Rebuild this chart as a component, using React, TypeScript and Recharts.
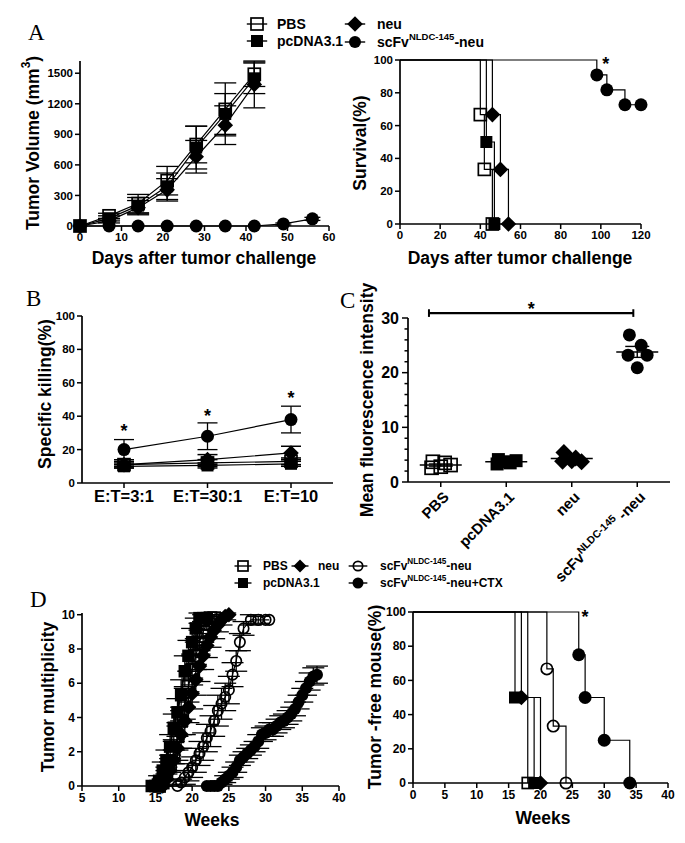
import React from "react";
import { LineChart, Line, XAxis, YAxis, ErrorBar, ScatterChart, Scatter, ReferenceLine, ReferenceDot } from "recharts";

const FONT = "'Liberation Sans', Arial, sans-serif";

// ---- A (left): tumor volume, mm3
const aDays = [0, 7, 14, 21, 28, 35, 42];
const aDaysLong = [0, 7, 14, 21, 28, 35, 42, 49, 56];
const aPbs = [0, 100, 220, 445, 800, 1145, 1490];
const aPbsErr = [0, 25, 90, 140, 180, 260, 120];
const aPcdna = [0, 75, 200, 390, 770, 1100, 1450];
const aPcdnaErr = [0, 25, 80, 130, 210, 200, 150];
const aNeu = [0, 50, 180, 355, 680, 990, 1390];
const aNeuErr = [0, 20, 70, 110, 160, 190, 230];
const aScfv = [0, 0, 0, 0, 0, 0, 0, 20, 70];
const aScfvErr = [0, 0, 0, 0, 0, 0, 0, 10, 15];

// ---- A (right): survival, %
const sPbsX = [0, 40, 42, 46];
const sPbsY = [100, 66.7, 33.3, 0];
const sPcdnaX = [0, 43, 47];
const sPcdnaY = [100, 50, 0];
const sNeuX = [0, 46, 50, 54];
const sNeuY = [100, 66.7, 33.3, 0];
const sScfvX = [0, 98, 103, 112, 120];
const sScfvY = [100, 90.9, 81.8, 72.7, 72.7];
const sStar = [102.5, 98];

// ---- B: specific killing
const bCats = ["E:T=3:1", "E:T=30:1", "E:T=10"];
const bScfv = [20, 28, 38];
const bScfvErr = [6, 8, 8];
const bNeu = [11, 14, 18];
const bNeuErr = [2, 3, 4];
const bPbs = [11, 12, 13];
const bPbsErr = [1, 2, 2];
const bPcdna = [10, 10.5, 11.5];
const bPcdnaErr = [1, 1.5, 1.5];
const bStar = [32, 41, 51.5];

// ---- C: mean fluorescence intensity
const cCats = ["PBS", "pcDNA3.1", "neu", "scFv"];
const cPbs = [3.7, 3.5, 2.6, 3.1, 2.8];
const cPcdna = [4.1, 3.5, 3.3, 3.9, 3.7];
const cNeu = [5.4, 4.4, 3.8, 3.7, 3.9];
const cScfv = [26.9, 25.0, 23.2, 23.2, 20.9];
const cMean = [3.1, 3.7, 4.3, 23.8];
const cSem = [0.2, 0.15, 0.3, 1.0];
const cJitter = [-0.12, 0.06, -0.14, 0.15, 0];
const cSig = [0.32, 3.44, 30.9];

// ---- D (left): tumor multiplicity
const mPcdnaW = [14.5, 15, 15.5, 16, 16.5, 17, 17.5, 18, 18.5, 19, 19.5, 20, 20.5, 21, 21.5, 22];
const mPcdna = [0, 0, 0.3, 0.9, 1.5, 2.3, 3.4, 4.3, 5.3, 6.7, 7.6, 8.4, 9.2, 9.8, 9.8, 9.8];
const mPcdnaErr = [0, 0, 0.3, 0.5, 0.6, 0.7, 0.8, 0.8, 0.9, 0.9, 0.9, 0.8, 0.6, 0.3, 0.2, 0.2];
const mPbsW = [15.5, 16, 16.5, 17, 17.5, 18, 18.5, 19, 19.5, 20, 20.5, 21, 21.5, 22, 22.5, 23];
const mPbs = [0, 0.2, 0.7, 1.3, 2, 2.9, 3.8, 4.8, 5.8, 6.8, 7.6, 8.4, 9, 9.5, 9.8, 9.8];
const mPbsErr = [0, 0.2, 0.4, 0.5, 0.7, 0.8, 0.8, 0.9, 0.9, 0.9, 0.8, 0.7, 0.6, 0.4, 0.2, 0.2];
const mNeuW = [16, 16.5, 17, 17.5, 18, 18.5, 19, 19.5, 20, 20.5, 21, 21.5, 22, 22.5, 23, 23.5, 24, 24.5, 25];
const mNeu = [0, 0.4, 0.9, 1.5, 2.2, 3, 3.8, 4.6, 5.4, 6.2, 7, 7.6, 8.2, 8.7, 9.1, 9.4, 9.7, 9.9, 10];
const mNeuErr = [0, 0.3, 0.5, 0.6, 0.7, 0.8, 0.8, 0.9, 0.9, 0.9, 0.9, 0.8, 0.7, 0.6, 0.5, 0.4, 0.3, 0.2, 0];
const mScfvW = [18, 18.5, 19, 19.5, 20, 20.5, 21, 21.5, 22, 22.5, 23, 23.5, 24, 24.5, 25, 25.5, 26, 26.5, 27, 28, 29, 30, 30.5];
const mScfv = [0, 0.2, 0.5, 0.8, 1.1, 1.5, 1.9, 2.3, 2.8, 3.2, 3.8, 4.4, 4.8, 5.2, 5.6, 6.5, 7.3, 8.4, 9.2, 9.7, 9.7, 9.7, 9.7];
const mScfvErr = [0, 0.2, 0.4, 0.5, 0.6, 0.7, 0.7, 0.8, 0.8, 0.9, 0.9, 0.9, 0.9, 0.8, 0.8, 0.7, 0.6, 0.5, 0.4, 0.3, 0.2, 0, 0];
const mCtxW = [22, 22.5, 23, 23.5, 24, 24.5, 25, 25.5, 26, 26.5, 27, 27.5, 28, 28.5, 29, 29.5, 30, 30.5, 31, 31.5, 32, 32.5, 33, 33.5, 34, 34.5, 35, 35.5, 36, 36.5, 37];
const mCtx = [0, 0, 0, 0, 0.2, 0.4, 0.6, 0.8, 1.1, 1.5, 1.7, 1.9, 2.1, 2.3, 2.6, 3, 3.1, 3.3, 3.3, 3.5, 3.7, 3.8, 4, 4.2, 4.5, 4.9, 5.3, 5.7, 6.1, 6.4, 6.5];
const mCtxErr = [0, 0, 0, 0, 0.1, 0.2, 0.2, 0.3, 0.3, 0.3, 0.3, 0.3, 0.3, 0.3, 0.4, 0.4, 0.4, 0.4, 0.4, 0.4, 0.4, 0.4, 0.4, 0.4, 0.4, 0.4, 0.4, 0.4, 0.5, 0.5, 0.5];

// ---- D (right): tumor-free mice, %
const fPbsX = [0, 18];
const fPbsY = [100, 0];
const fPcdnaX = [0, 16, 19];
const fPcdnaY = [100, 50, 0];
const fNeuX = [0, 17, 20];
const fNeuY = [100, 50, 0];
const fScfvX = [0, 21, 22, 24];
const fScfvY = [100, 66.7, 33.3, 0];
const fCtxX = [0, 26, 27, 30, 34];
const fCtxY = [100, 75, 50, 25, 0];
const fStar = [27, 97.5];

const rows = (xs: number[], ys: number[], es?: number[]) =>
  xs.map((x, i) => ({ x, y: ys[i], e: es ? es[i] : 0 }));

const Marker = ({ kind, cx, cy, s }: { kind: string; cx: number; cy: number; s: number }) => {
  const h = s / 2;
  if (kind === "osq")
    return <rect x={cx - h} y={cy - h} width={s} height={s} fill="none" stroke="#000" strokeWidth={1.7} />;
  if (kind === "fsq") return <rect x={cx - h} y={cy - h} width={s} height={s} fill="#000" />;
  if (kind === "dia") {
    const d = h * 1.3;
    return <polygon points={`${cx},${cy - d} ${cx + d},${cy} ${cx},${cy + d} ${cx - d},${cy}`} fill="#000" />;
  }
  if (kind === "oci") return <circle cx={cx} cy={cy} r={h - 0.8} fill="none" stroke="#000" strokeWidth={1.7} />;
  return <circle cx={cx} cy={cy} r={h} fill="#000" />;
};

const dots = (kind: string, s: number, skipFirst = false) => (p: any) =>
  (skipFirst && p.index === 0) || p.cx == null ? (
    <g key={p.index} />
  ) : (
    <Marker key={p.index} kind={kind} cx={p.cx} cy={p.cy} s={s} />
  );

const Star = (p: any) => (
  <text x={p.cx} y={p.cy + 7} textAnchor="middle" fontSize={18} fontWeight={700} fontFamily={FONT}>*</text>
);
const starDot = (p: any) => <Star key={p.index} cx={p.cx} cy={p.cy} />;

const YW = 44;
function frame(x0: number, x1: number, y0: number, y1: number, pad = 14, xh = 32) {
  return {
    style: { position: "absolute" as const, left: x0 - YW - 14, top: y0 - pad },
    width: x1 - x0 + YW + 28,
    height: y1 - y0 + pad + xh,
    margin: { top: pad, right: 14, bottom: 0, left: 14 },
    xh,
  };
}

const axis = { stroke: "#000", strokeWidth: 1.7 };
const tl = { stroke: "#000", strokeWidth: 1.5 };
const tf = (fs: number) => ({ fill: "#000", fontSize: fs, fontWeight: 700, fontFamily: FONT });
const ln = { stroke: "#000", strokeWidth: 1.2, isAnimationActive: false, connectNulls: true } as const;
const eb = (w: number) => <ErrorBar dataKey="e" width={w} stroke="#000" strokeWidth={1.3} direction="y" />;

const CYTick = (p: any) => {
  const v = p.payload.value;
  const major = v % 10 === 0;
  return (
    <g>
      <line x1={p.x - (major ? 6 : 3.5)} x2={p.x} y1={p.y} y2={p.y} stroke="#000" strokeWidth={1.5} />
      {major && (
        <text x={p.x - 9} y={p.y} textAnchor="end" dominantBaseline="central" {...tf(16)}>{v}</text>
      )}
    </g>
  );
};

const CXTick = (p: any) => {
  const i = Math.floor(p.payload.value);
  const tx = p.x + 9;
  const ty = p.y + 9;
  return (
    <text x={tx} y={ty} transform={`rotate(-45 ${tx} ${ty})`} textAnchor="end" {...tf(15)}>
      {i === 3 ? (
        <>
          scFv<tspan dy={-6} fontSize={10.5}>NLDC-145</tspan>
          <tspan dy={6}> -neu</tspan>
        </>
      ) : (
        cCats[i]
      )}
    </text>
  );
};

const Sup = ({ sup, after, fs }: { sup: string; after: string; fs: number }) => (
  <>
    <tspan dy={-fs * 0.4} fontSize={fs * 0.68}>{sup}</tspan>
    <tspan dy={fs * 0.4}>{after}</tspan>
  </>
);

function Overlay() {
  const title = { fontSize: 17.5, fontWeight: 700, fontFamily: FONT, textAnchor: "middle" as const, dominantBaseline: "central" as const };
  const letter = { fontSize: 23, fontFamily: "'Liberation Serif', 'Times New Roman', serif" };
  const leg = (fs: number) => ({ fontSize: fs, fontWeight: 700, fontFamily: FONT, dominantBaseline: "central" as const });
  const LegM = ({ kind, x, y, s }: { kind: string; x: number; y: number; s: number }) => (
    <g>
      <line x1={x - s * 0.85} x2={x + s * 0.85} y1={y} y2={y} stroke="#000" strokeWidth={1.4} />
      <Marker kind={kind} cx={x} cy={y} s={s} />
    </g>
  );
  return (
    <svg width={685} height={843} style={{ position: "absolute", left: 0, top: 0, pointerEvents: "none" }}>
      <text x={28} y={40} {...letter}>A</text>
      <text x={26} y={306} {...letter}>B</text>
      <text x={340} y={308} {...letter}>C</text>
      <text x={30} y={607} {...letter}>D</text>

      {/* legend A */}
      <LegM kind="osq" x={257} y={24} s={12} />
      <text x={277} y={24} {...leg(14)}>PBS</text>
      <LegM kind="fsq" x={257} y={41} s={12} />
      <text x={277} y={41} {...leg(14)}>pcDNA3.1</text>
      <LegM kind="dia" x={355} y={24} s={12} />
      <text x={377} y={24} {...leg(14)}>neu</text>
      <LegM kind="fci" x={355} y={42} s={12} />
      <text x={377} y={42} {...leg(14)}>scFv<Sup sup="NLDC-145" after="-neu" fs={14} /></text>

      {/* legend D */}
      <LegM kind="osq" x={243} y={566} s={10} />
      <text x={263} y={566} {...leg(12)}>PBS</text>
      <LegM kind="dia" x={300} y={566} s={10} />
      <text x={318} y={566} {...leg(12)}>neu</text>
      <LegM kind="oci" x={358} y={566} s={11} />
      <text x={380} y={566} {...leg(12)}>scFv<Sup sup="NLDC-145" after="-neu" fs={12} /></text>
      <LegM kind="fsq" x={243} y={583} s={10} />
      <text x={263} y={583} {...leg(12)}>pcDNA3.1</text>
      <LegM kind="fci" x={358} y={583} s={11} />
      <text x={380} y={583} {...leg(12)}>scFv<Sup sup="NLDC-145" after="-neu+CTX" fs={12} /></text>

      {/* axis titles */}
      <text x={204} y={258} {...title}>Days after tumor challenge</text>
      <text x={0} y={0} transform="translate(33 143) rotate(-90)" {...title}>
        Tumor Volume (mm<Sup sup="3" after=")" fs={17.5} />
      </text>
      <text x={520} y={258} {...title}>Days after tumor challenge</text>
      <text x={0} y={0} transform="translate(360 143) rotate(-90)" {...title}>Survival(%)</text>
      <text x={0} y={0} transform="translate(45 394) rotate(-90)" {...title}>Specific killing(%)</text>
      <text x={0} y={0} transform="translate(367 400) rotate(-90)" {...title}>Mean fluorescence intensity</text>
      <text x={212} y={820} {...title}>Weeks</text>
      <text x={0} y={0} transform="translate(48 697) rotate(-90)" {...title}>Tumor multiplicity</text>
      <text x={543} y={818} {...title}>Weeks</text>
      <text x={0} y={0} transform="translate(375 697) rotate(-90)" {...title}>Tumor -free mouse(%)</text>
    </svg>
  );
}

export default function App() {
  const fa = frame(80, 329, 61, 226);
  const fs = frame(400, 641, 60, 224);
  const fb = frame(82, 333, 316, 483);
  const fc = frame(408, 670, 318, 482, 28, 110);
  const fd = frame(82, 339, 613, 786);
  const ff = frame(413, 668, 612, 783);

  const bData = bCats.map((c, i) => ({
    cat: c,
    scfv: bScfv[i], scfvE: bScfvErr[i],
    neu: bNeu[i], neuE: bNeuErr[i],
    pbs: bPbs[i], pbsE: bPbsErr[i],
    pc: bPcdna[i], pcE: bPcdnaErr[i],
    star: bStar[i],
  }));
  const cRows = (vals: number[], g: number) => vals.map((y, j) => ({ x: g + 0.5 + cJitter[j], y }));
  const cMeanRows = cMean.map((y, g) => ({ x: g + 0.5, y, e: cSem[g] }));

  return (
    <div style={{ position: "absolute", left: 0, top: 0, width: 685, height: 843, background: "#fff" }}>
      {/* A: tumor volume */}
      <div style={fa.style}>
        <LineChart width={fa.width} height={fa.height} margin={fa.margin}>
          <XAxis type="number" dataKey="x" domain={[0, 60]} ticks={[0, 10, 20, 30, 40, 50, 60]} height={fa.xh}
            axisLine={axis} tickLine={tl} tickSize={5} tick={tf(11.5)} />
          <YAxis type="number" domain={[0, 1500]} ticks={[0, 300, 600, 900, 1200, 1500]} width={YW}
            axisLine={axis} tickLine={tl} tickSize={5} tick={tf(11.5)} />
          <Line data={rows(aDaysLong, aScfv, aScfvErr)} dataKey="y" {...ln} dot={dots("fci", 13)}>{eb(8)}</Line>
          <Line data={rows(aDays, aNeu, aNeuErr)} dataKey="y" {...ln} dot={dots("dia", 12)}>{eb(11)}</Line>
          <Line data={rows(aDays, aPcdna, aPcdnaErr)} dataKey="y" {...ln} dot={dots("fsq", 12)}>{eb(11)}</Line>
          <Line data={rows(aDays, aPbs, aPbsErr)} dataKey="y" {...ln} dot={dots("osq", 12)}>{eb(11)}</Line>
        </LineChart>
      </div>

      {/* A: survival */}
      <div style={fs.style}>
        <LineChart width={fs.width} height={fs.height} margin={fs.margin}>
          <XAxis type="number" dataKey="x" domain={[0, 120]} ticks={[0, 20, 40, 60, 80, 100, 120]} height={fs.xh}
            axisLine={axis} tickLine={tl} tickSize={5} tick={tf(11.5)} />
          <YAxis type="number" domain={[0, 100]} ticks={[0, 20, 40, 60, 80, 100]} width={YW}
            axisLine={axis} tickLine={tl} tickSize={5} tick={tf(11.5)} />
          <Line type="stepAfter" data={rows(sScfvX, sScfvY)} dataKey="y" {...ln} dot={dots("fci", 13, true)} />
          <Line type="stepAfter" data={rows(sNeuX, sNeuY)} dataKey="y" {...ln} dot={dots("dia", 12, true)} />
          <Line type="stepAfter" data={rows(sPcdnaX, sPcdnaY)} dataKey="y" {...ln} dot={dots("fsq", 12, true)} />
          <Line type="stepAfter" data={rows(sPbsX, sPbsY)} dataKey="y" {...ln} dot={dots("osq", 12, true)} />
          <ReferenceDot x={sStar[0]} y={sStar[1]} r={1} shape={Star} ifOverflow="visible" />
        </LineChart>
      </div>

      {/* B: specific killing */}
      <div style={fb.style}>
        <LineChart width={fb.width} height={fb.height} margin={fb.margin} data={bData}>
          <XAxis dataKey="cat" padding={{ left: 42, right: 42 }} height={fb.xh}
            axisLine={axis} tickLine={tl} tickSize={5} tick={tf(16.5)} />
          <YAxis type="number" domain={[0, 100]} ticks={[0, 20, 40, 60, 80, 100]} width={YW}
            axisLine={axis} tickLine={tl} tickSize={5} tick={tf(11.5)} />
          <Line dataKey="pc" {...ln} dot={dots("fsq", 12)}><ErrorBar dataKey="pcE" width={10} stroke="#000" direction="y" /></Line>
          <Line dataKey="pbs" {...ln} dot={dots("osq", 12)}><ErrorBar dataKey="pbsE" width={10} stroke="#000" direction="y" /></Line>
          <Line dataKey="neu" {...ln} dot={dots("dia", 12)}><ErrorBar dataKey="neuE" width={10} stroke="#000" direction="y" /></Line>
          <Line dataKey="scfv" {...ln} dot={dots("fci", 13)}><ErrorBar dataKey="scfvE" width={10} stroke="#000" strokeWidth={1.3} direction="y" /></Line>
          <Line dataKey="star" stroke="none" isAnimationActive={false} dot={starDot} />
        </LineChart>
      </div>

      {/* C: mean fluorescence intensity */}
      <div style={fc.style}>
        <ScatterChart width={fc.width} height={fc.height} margin={fc.margin}>
          <XAxis type="number" dataKey="x" domain={[0, 4]} ticks={[0.5, 1.5, 2.5, 3.5]} height={fc.xh}
            axisLine={axis} tickLine={tl} tickSize={5} tick={CXTick} interval={0} />
          <YAxis type="number" dataKey="y" domain={[0, 30]} ticks={[0, 2, 4, 6, 8, 10, 12, 14, 16, 18, 20, 22, 24, 26, 28, 30]}
            width={YW} axisLine={axis} tickLine={false} tickSize={0} tickMargin={0} tick={CYTick} interval={0} />
          <Scatter data={cRows(cPbs, 0)} isAnimationActive={false} shape={(p: any) => <Marker kind="osq" cx={p.cx} cy={p.cy} s={13} />} />
          <Scatter data={cRows(cPcdna, 1)} isAnimationActive={false} shape={(p: any) => <Marker kind="fsq" cx={p.cx} cy={p.cy} s={13} />} />
          <Scatter data={cRows(cNeu, 2)} isAnimationActive={false} shape={(p: any) => <Marker kind="dia" cx={p.cx} cy={p.cy} s={13} />} />
          <Scatter data={cRows(cScfv, 3)} isAnimationActive={false} shape={(p: any) => <Marker kind="fci" cx={p.cx} cy={p.cy} s={13} />} />
          <Scatter data={cMeanRows} isAnimationActive={false}
            shape={(p: any) => <line x1={p.cx - 21} x2={p.cx + 21} y1={p.cy} y2={p.cy} stroke="#000" strokeWidth={1.5} />}>
            <ErrorBar dataKey="e" width={12} stroke="#000" strokeWidth={1.4} direction="y" />
          </Scatter>
          <ReferenceLine segment={[{ x: cSig[0], y: cSig[2] }, { x: cSig[1], y: cSig[2] }]} stroke="#000" strokeWidth={2.4} ifOverflow="visible" />
          <ReferenceLine segment={[{ x: cSig[0], y: cSig[2] - 0.7 }, { x: cSig[0], y: cSig[2] + 0.7 }]} stroke="#000" strokeWidth={2} ifOverflow="visible" />
          <ReferenceLine segment={[{ x: cSig[1], y: cSig[2] - 0.7 }, { x: cSig[1], y: cSig[2] + 0.7 }]} stroke="#000" strokeWidth={2} ifOverflow="visible" />
          <ReferenceDot x={(cSig[0] + cSig[1]) / 2} y={cSig[2] + 0.9} r={1} shape={Star} ifOverflow="visible" />
        </ScatterChart>
      </div>

      {/* D: tumor multiplicity */}
      <div style={fd.style}>
        <LineChart width={fd.width} height={fd.height} margin={fd.margin}>
          <XAxis type="number" dataKey="x" domain={[5, 40]} ticks={[5, 10, 15, 20, 25, 30, 35, 40]} height={fd.xh}
            axisLine={axis} tickLine={tl} tickSize={5} tick={tf(12)} />
          <YAxis type="number" domain={[0, 10]} ticks={[0, 2, 4, 6, 8, 10]} width={YW}
            axisLine={axis} tickLine={tl} tickSize={5} tick={tf(12)} />
          <Line data={rows(mCtxW, mCtx, mCtxErr)} dataKey="y" {...ln} dot={dots("fci", 12)}>{eb(11)}</Line>
          <Line data={rows(mScfvW, mScfv, mScfvErr)} dataKey="y" {...ln} dot={dots("oci", 12)}>{eb(11)}</Line>
          <Line data={rows(mNeuW, mNeu, mNeuErr)} dataKey="y" {...ln} dot={dots("dia", 12)}>{eb(11)}</Line>
          <Line data={rows(mPbsW, mPbs, mPbsErr)} dataKey="y" {...ln} dot={dots("osq", 12)}>{eb(11)}</Line>
          <Line data={rows(mPcdnaW, mPcdna, mPcdnaErr)} dataKey="y" {...ln} dot={dots("fsq", 12.5)}>{eb(11)}</Line>
        </LineChart>
      </div>

      {/* D: tumor-free mice */}
      <div style={ff.style}>
        <LineChart width={ff.width} height={ff.height} margin={ff.margin}>
          <XAxis type="number" dataKey="x" domain={[0, 40]} ticks={[0, 5, 10, 15, 20, 25, 30, 35, 40]} height={ff.xh}
            axisLine={axis} tickLine={tl} tickSize={5} tick={tf(12)} />
          <YAxis type="number" domain={[0, 100]} ticks={[0, 20, 40, 60, 80, 100]} width={YW}
            axisLine={axis} tickLine={tl} tickSize={5} tick={tf(12)} />
          <Line type="stepAfter" data={rows(fCtxX, fCtxY)} dataKey="y" {...ln} dot={dots("fci", 13, true)} />
          <Line type="stepAfter" data={rows(fScfvX, fScfvY)} dataKey="y" {...ln} dot={dots("oci", 13, true)} />
          <Line type="stepAfter" data={rows(fNeuX, fNeuY)} dataKey="y" {...ln} dot={dots("dia", 12, true)} />
          <Line type="stepAfter" data={rows(fPcdnaX, fPcdnaY)} dataKey="y" {...ln} dot={dots("fsq", 12, true)} />
          <Line type="stepAfter" data={rows(fPbsX, fPbsY)} dataKey="y" {...ln} dot={dots("osq", 11, true)} />
          <ReferenceDot x={fStar[0]} y={fStar[1]} r={1} shape={Star} ifOverflow="visible" />
        </LineChart>
      </div>

      <Overlay />
    </div>
  );
}
